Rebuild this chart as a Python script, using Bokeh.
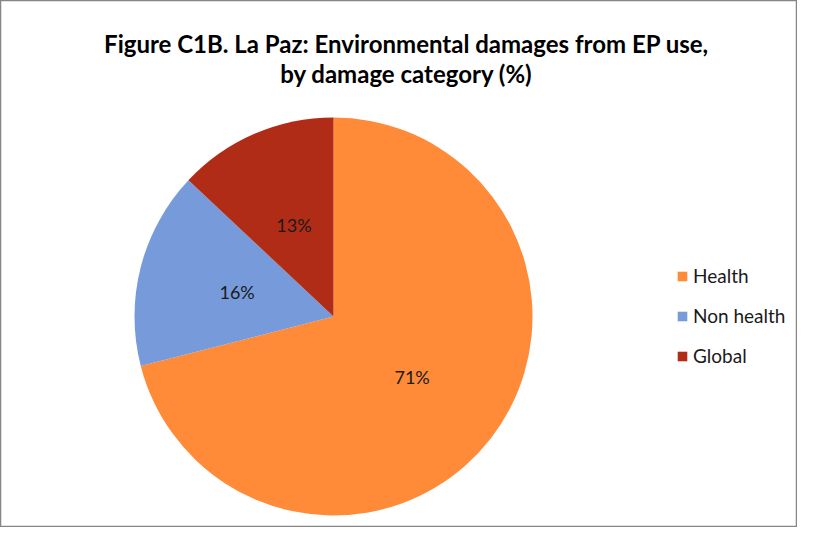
import math
from bokeh.plotting import figure
from bokeh.models import ColumnDataSource, Range1d, Legend, LegendItem
from bokeh.core.properties import value
from bokeh.embed import file_html
from bokeh.resources import INLINE

categories = ["Health", "Non health", "Global"]
shares = [71, 16, 13]
colors = ["#FF8A38", "#779BDA", "#B12C16"]
title_lines = ["Figure C1B. La Paz: Environmental damages from EP use,",
               "by damage category (%)"]

W, H = 797, 527
p = figure(width=W, height=H, output_backend="svg", toolbar_location=None,
           x_range=Range1d(0, W), y_range=Range1d(0, H), min_border=0)
p.axis.visible = False
p.grid.visible = False
p.outline_line_color = "#868686"
p.outline_line_width = 1.5
p.background_fill_color = "white"

cx, cy, r = 333, H - 316, 199
total = sum(shares)
starts, ends, lx, ly, labels = [], [], [], [], []
acc = 0.0
for s in shares:
    a0 = math.pi / 2 - 2 * math.pi * acc / total
    a1 = math.pi / 2 - 2 * math.pi * (acc + s) / total
    starts.append(a0)
    ends.append(a1)
    mid = (a0 + a1) / 2
    lx.append(cx + 0.5 * r * math.cos(mid))
    ly.append(cy + 0.5 * r * math.sin(mid))
    labels.append(f"{s}%")
    acc += s

src = ColumnDataSource(dict(cat=categories, start=starts, end=ends,
                            color=colors, lx=lx, ly=ly, lab=labels))
wr = p.wedge(x=cx, y=cy, radius=r, radius_units="screen", start_angle="start",
             end_angle="end", direction="clock", fill_color="color",
             line_color=None, source=src)

p.text(x="lx", y="ly", text="lab", source=src, text_align="center",
       text_baseline="middle", text_font=value("Lato"),
       text_font_size="18px", text_color="#1a1a1a")

for i, t in enumerate(title_lines):
    p.text(x=[406], y=[H - 43 - 30 * i], text=[t], text_align="center",
           text_baseline="middle", text_font=value("Lato"),
           text_font_style="bold", text_font_size="24px", text_color="black")

items = [LegendItem(label=c, renderers=[wr], index=i) for i, c in enumerate(categories)]
legend = Legend(items=items, location=(676, 160), orientation="vertical",
                glyph_width=12, glyph_height=12, label_height=20,
                label_standoff=5, spacing=17, padding=0, margin=0,
                border_line_color=None, background_fill_alpha=0,
                label_text_font="Lato", label_text_font_size="19px",
                label_text_color="#1a1a1a")
p.add_layout(legend, "center")

open("out.html", "w").write(file_html(p, INLINE))
